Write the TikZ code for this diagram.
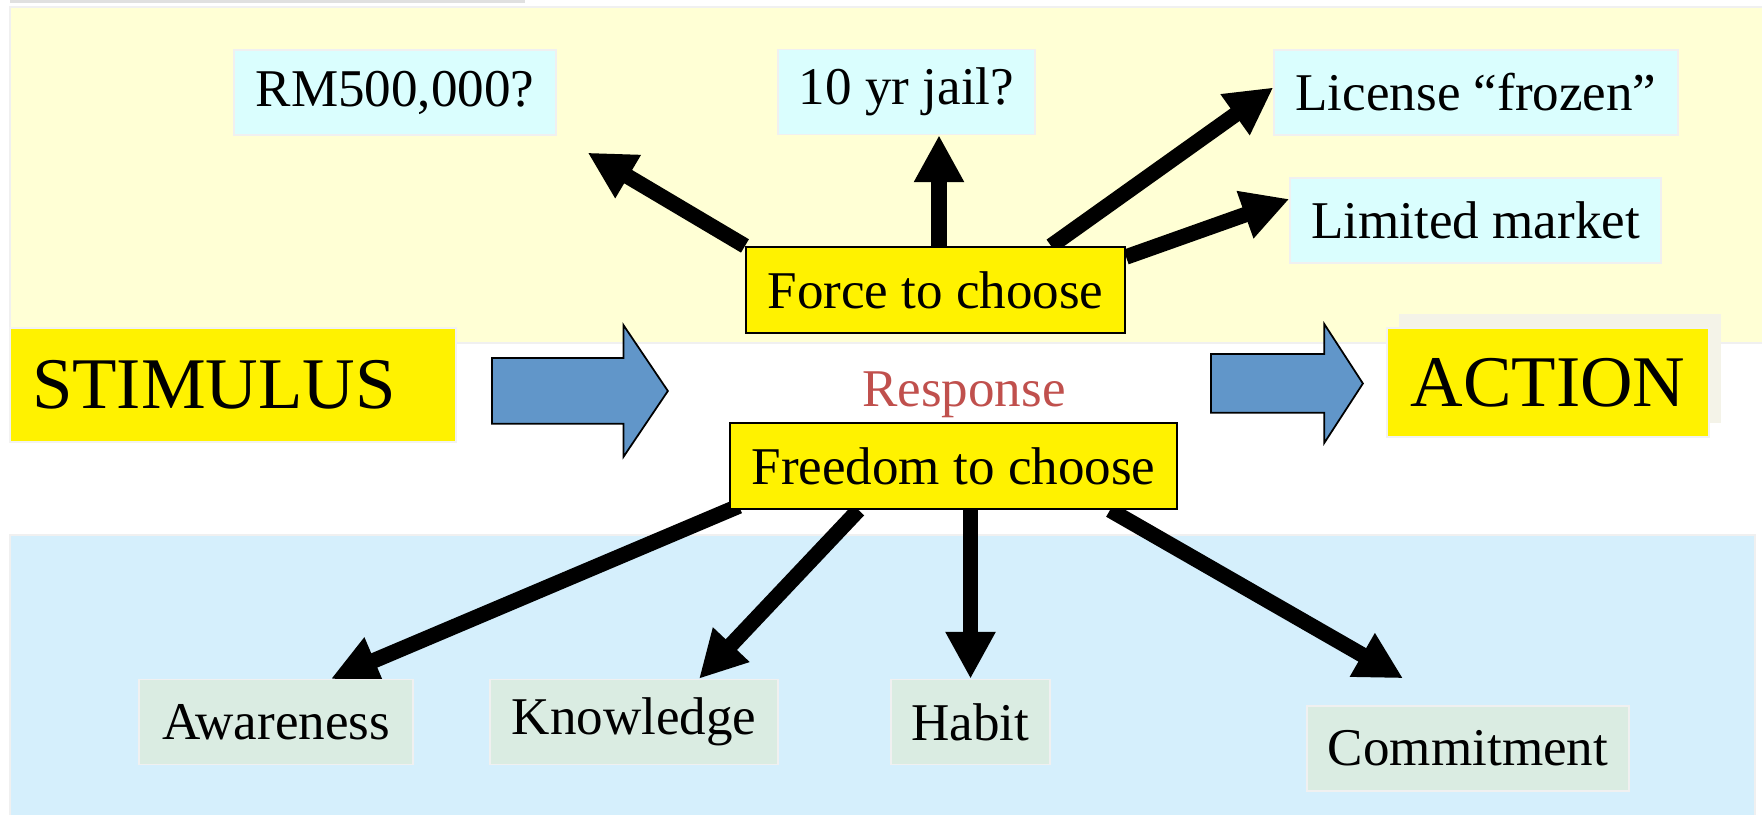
\documentclass[tikz,border=0pt]{standalone}
\usepackage{fontspec}
\setmainfont{Liberation Serif}
\usetikzlibrary{arrows.meta,shapes.arrows,shadows}
\pgfdeclarelayer{panels}
\pgfdeclarelayer{background}
\pgfsetlayers{panels,background,main}
\definecolor{panelyellow}{HTML}{FFFFD5}
\definecolor{panelblue}{HTML}{D5EFFC}
\definecolor{outcomecyan}{HTML}{DAFEFE}
\definecolor{factorgreen}{HTML}{DAECE2}
\definecolor{arrowblue}{HTML}{6196C9}
\definecolor{responsered}{HTML}{C0504D}
\definecolor{shadowgrey}{HTML}{F4F3E8}
\tikzstyle{box}=[rectangle,inner sep=0pt,minimum height=0.85cm,font=\fontsize{15.1}{18}\selectfont]
\tikzstyle{outcome}=[box,fill=outcomecyan,draw=black!6]
\tikzstyle{factor}=[box,fill=factorgreen,draw=black!6]
\tikzstyle{choice}=[box,fill=yellow,draw=black,line width=0.6pt,minimum height=0.86cm]
\tikzstyle{endpoint}=[box,fill=yellow,draw=black!5,font=\fontsize{20.7}{24}\selectfont]
\tikzstyle{block arrow}=[single arrow,fill=arrowblue,draw=black,line width=0.5pt,inner sep=0pt,anchor=tail]
\tikzstyle{edge}=[draw,line width=1.55mm,-{Triangle[length=4.7mm,width=4.7mm]}]

\begin{document}
\begin{tikzpicture}
    \useasboundingbox (0,0) rectangle (17.62,8.15);
    % The two coloured bands
    \begin{pgfonlayer}{panels}
        \draw[black!12,line width=0.5mm] (0.10,8.14) -- (5.25,8.14);
        \filldraw[fill=panelyellow,draw=black!6] (0.10,8.08) rectangle (17.70,4.72);
        \filldraw[fill=panelblue,draw=black!6] (0.10,2.80) rectangle (17.55,-0.10);
    \end{pgfonlayer}

    % Stimulus, response and action
    \node[endpoint,text width=4.02cm,inner xsep=0.22cm,align=left,minimum height=1.14cm] (stimulus) at (2.33,4.30) {STIMULUS};
    \node[endpoint,minimum width=3.22cm,minimum height=1.09cm,
          general shadow={shadow xshift=1.2mm,shadow yshift=1.4mm,fill=shadowgrey,draw=none}]
          (action) at (15.48,4.325) {ACTION};
    \node[block arrow,minimum height=1.76cm,inner ysep=0.32cm,single arrow head extend=0.33cm,
          single arrow tip angle=112] (go) at (4.91,4.24) {};
    \node[block arrow,minimum height=1.52cm,inner ysep=0.285cm,single arrow head extend=0.30cm,
          single arrow tip angle=114] (act) at (12.10,4.315) {};
    \node[text=responsered,font=\fontsize{15.1}{18}\selectfont,anchor=base] (response) at (9.64,4.08) {Response};

    % The two ways to choose
    \node[choice,minimum width=3.79cm] (force) at (9.355,5.25) {Force to choose};
    \node[choice,minimum width=4.47cm] (freedom) at (9.535,3.49) {Freedom to choose};

    % What forces the choice
    \foreach \pos/\name/\w/\txt in {{(3.95,7.225)/rm/3.22/{RM500,000?}},{(9.065,7.23)/jail/2.57/{10 yr jail?}},
        {(14.76,7.225)/license/4.04/{License “frozen”}},{(14.755,5.945)/market/3.71/{Limited market}}}
        \node[outcome,minimum width=\w cm] (\name) at \pos {\txt};

    % What the free choice rests on
    \foreach \pos/\name/\w/\txt in {{(2.76,0.93)/awareness/2.74/Awareness},{(6.34,0.93)/knowledge/2.88/Knowledge},
        {(9.705,0.93)/habit/1.59/Habit},{(14.68,0.665)/commitment/3.22/Commitment}}
        \node[factor,minimum width=\w cm] (\name) at \pos {\txt};

    % Connect the choices with the boxes round them
    \begin{pgfonlayer}{background}
        \path[edge] (force.north west) -- ([shift={(.31,-.17)}]rm.south east);
        \path[edge] ([xshift=.035cm]force.north) -- ([xshift=.325cm]jail.south);
        \path[edge] ([xshift=-.75cm]force.north east) -- ([yshift=.05cm]license.west);
        \path[edge] ([yshift=.33cm]force.east) -- ([yshift=.215cm]market.west);
        \path[edge] ([shift={(.10,.04)}]freedom.south west) -- ([xshift=.55cm]awareness.north);
        \path[edge] ([xshift=-.95cm]freedom.south) -- ([xshift=.65cm]knowledge.north);
        \path[edge] (freedom.south -| habit.north) -- (habit.north);
        \path[edge] ([xshift=1.565cm]freedom.south) -- ([shift={(-.65,.27)}]commitment.north);
    \end{pgfonlayer}
\end{tikzpicture}
\end{document}
